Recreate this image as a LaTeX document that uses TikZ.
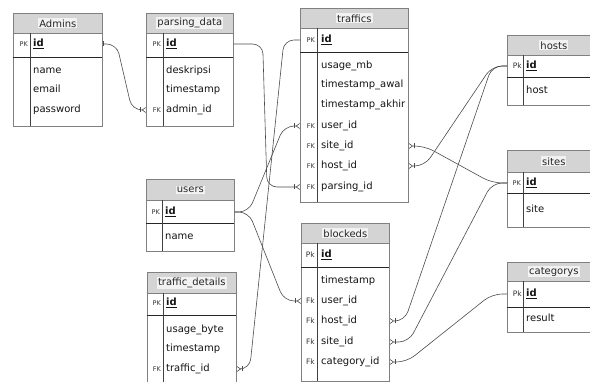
\documentclass[tikz,border=0pt]{standalone}
\usepackage{fontspec}
\setmainfont{DejaVu Sans}
\usetikzlibrary{arrows.meta, positioning}

\tikzset{
  tbl/.style={draw=black!50, line width=0.7pt, anchor=north west, inner sep=0pt},
  tblhead/.style={draw=black!50, fill=black!17, line width=0.7pt, anchor=north west, inner sep=0pt},
  ttl/.style={fill=black!5, inner sep=1pt, text=black!85, font=\fontsize{10}{12}\selectfont},
  fld/.style={anchor=west, inner sep=0pt, text height=7.5pt, text depth=2pt, text=black!92, font=\fontsize{10}{12}\selectfont},
  key/.style={anchor=east, inner sep=0pt, text height=5pt, text depth=0pt, text=black!80, font=\fontsize{6.5}{8}\selectfont},
  keyk/.style={key, text height=5.5pt, font=\fontsize{7.5}{9}\selectfont},
  pksep/.style={draw=black!85, line width=0.9pt},
  coldiv/.style={draw=black!75, line width=0.7pt},
  rel/.style={draw=black!70, line width=0.6pt, rounded corners=10pt},
  many/.style={-{Bar[width=5pt,sep=1pt]Straight Barb[reversed,length=3.5pt,width=5pt]}},
}
\newcommand{\pkid}{\underline{\textbf{id}}}

\begin{document}
\begin{tikzpicture}[x=1pt, y=-1pt]
  \useasboundingbox (0,0) rectangle (590,382);
  \fill[white] (0,0) rectangle (590,382);
  \clip (0,0) rectangle (590,382);

  % Admins
  \node[tbl, minimum width=89, minimum height=113] (admins) at (13,13) {};
  \node[tblhead, minimum width=89, minimum height=20] (admins-head) at (13,13) {};
  \node[ttl] at (admins-head.center) {Admins};
  \draw[pksep] (13,57) -- (102,57);
  \draw[coldiv] (30,33) -- (30,126);
  \node[key] at (28,44) {PK};
  \node[fld] (admins-id) at (33,44) {\pkid};
  \node[fld] (admins-name) at (33,71) {name};
  \node[fld] (admins-email) at (33,90) {email};
  \node[fld] (admins-pass) at (33,110) {password};

  % parsing_data
  \node[tbl, minimum width=87, minimum height=113] (parsing) at (146,13) {};
  \node[tblhead, minimum width=87, minimum height=20] (parsing-head) at (146,13) {};
  \node[ttl] at (parsing-head.center) {parsing\_data};
  \draw[pksep] (146,57) -- (233,57);
  \draw[coldiv] (163,33) -- (163,126);
  \node[key] at (161,44) {PK};
  \node[fld] (parsing-id) at (166,44) {\pkid};
  \node[fld] (parsing-desk) at (166,71) {deskripsi};
  \node[fld] (parsing-time) at (166,90) {timestamp};
  \node[key] at (161,110) {FK};
  \node[fld] (parsing-admin) at (166,110) {admin\_id};

  % traffics
  \node[tbl, minimum width=108, minimum height=194] (traffics) at (300,8) {};
  \node[tblhead, minimum width=108, minimum height=20] (traffics-head) at (300,8) {};
  \node[ttl] at (traffics-head.center) {traffics};
  \draw[pksep] (300,52) -- (408,52);
  \draw[coldiv] (317,28) -- (317,202);
  \node[key] at (315,40) {PK};
  \node[fld] (traffics-id) at (321,40) {\pkid};
  \node[fld] (traffics-usage) at (321,66) {usage\_mb};
  \node[fld] (traffics-awal) at (321,85) {timestamp\_awal};
  \node[fld] (traffics-akhir) at (321,105) {timestamp\_akhir};
  \node[key] at (315,126) {FK};
  \node[fld] (traffics-user) at (321,126) {user\_id};
  \node[key] at (315,146) {FK};
  \node[fld] (traffics-site) at (321,146) {site\_id};
  \node[key] at (315,166) {FK};
  \node[fld] (traffics-host) at (321,166) {host\_id};
  \node[key] at (315,187) {FK};
  \node[fld] (traffics-parsing) at (321,187) {parsing\_id};

  % hosts
  \node[tbl, minimum width=93, minimum height=70] (hosts) at (507,35) {};
  \node[tblhead, minimum width=93, minimum height=20] (hosts-head) at (507,35) {};
  \node[ttl] at (hosts-head.center) {hosts};
  \draw[pksep] (507,77) -- (600,77);
  \draw[coldiv] (523,55) -- (523,105);
  \node[keyk] at (522,66) {Pk};
  \node[fld] (hosts-id) at (526,66) {\pkid};
  \node[fld] (hosts-host) at (526,91) {host};

  % sites
  \node[tbl, minimum width=93, minimum height=77] (sites) at (507,150) {};
  \node[tblhead, minimum width=93, minimum height=22] (sites-head) at (507,150) {};
  \node[ttl] at (sites-head.center) {sites};
  \draw[pksep] (507,193) -- (600,193);
  \draw[coldiv] (523,172) -- (523,227);
  \node[key] at (521,183) {PK};
  \node[fld] (sites-id) at (526,183) {\pkid};
  \node[fld] (sites-site) at (526,210) {site};

  % users
  \node[tbl, minimum width=88, minimum height=72] (users) at (146,179) {};
  \node[tblhead, minimum width=88, minimum height=21] (users-head) at (146,179) {};
  \node[ttl] at (users-head.center) {users};
  \draw[pksep] (146,223) -- (234,223);
  \draw[coldiv] (162,200) -- (162,251);
  \node[key] at (160,212) {PK};
  \node[fld] (users-id) at (165,212) {\pkid};
  \node[fld] (users-name) at (165,237) {name};

  % traffic_details
  \node[tbl, minimum width=89, minimum height=120] (details) at (147,272) {};
  \node[tblhead, minimum width=89, minimum height=21] (details-head) at (147,272) {};
  \node[ttl] at (details-head.center) {traffic\_details};
  \draw[pksep] (147,315) -- (236,315);
  \draw[coldiv] (163,293) -- (163,392);
  \node[key] at (161,303) {PK};
  \node[fld] (details-id) at (166,303) {\pkid};
  \node[fld] (details-usage) at (166,330) {usage\_byte};
  \node[fld] (details-time) at (166,349) {timestamp};
  \node[key] at (161,369) {FK};
  \node[fld] (details-traffic) at (166,369) {traffic\_id};

  % blockeds
  \node[tbl, minimum width=88, minimum height=158] (blockeds) at (301,223) {};
  \node[tblhead, minimum width=88, minimum height=20] (blockeds-head) at (301,223) {};
  \node[ttl] at (blockeds-head.center) {blockeds};
  \draw[pksep] (301,267) -- (389,267);
  \draw[coldiv] (317,243) -- (317,381);
  \node[keyk] at (315,255) {Pk};
  \node[fld] (blockeds-id) at (321,255) {\pkid};
  \node[fld] (blockeds-time) at (321,281) {timestamp};
  \node[keyk] at (315,301) {Fk};
  \node[fld] (blockeds-user) at (321,301) {user\_id};
  \node[keyk] at (315,321) {Fk};
  \node[fld] (blockeds-host) at (321,321) {host\_id};
  \node[keyk] at (315,342) {Fk};
  \node[fld] (blockeds-site) at (321,342) {site\_id};
  \node[keyk] at (315,362) {Fk};
  \node[fld] (blockeds-cat) at (321,362) {category\_id};

  % categorys
  \node[tbl, minimum width=93, minimum height=70] (categorys) at (507,262) {};
  \node[tblhead, minimum width=93, minimum height=19] (categorys-head) at (507,262) {};
  \node[ttl] at (categorys-head.center) {categorys};
  \draw[pksep] (507,307) -- (600,307);
  \draw[coldiv] (523,281) -- (523,332);
  \node[keyk] at (522,294) {Pk};
  \node[fld] (categorys-id) at (526,294) {\pkid};
  \node[fld] (categorys-result) at (526,319) {result};

  % relations
  \draw[rel, arrows={{Bar[width=5pt]}-{Bar[width=5pt,sep=1pt]Straight Barb[reversed,length=3.5pt,width=5pt]}}]
    (admins.east |- admins-id) -- ++(14,0) -- ([xshift=-14pt]parsing.west |- parsing-admin) -- (parsing.west |- parsing-admin);
  \draw[rel, many] (parsing.east |- parsing-id) -- ++(29,0) -- ([xshift=-33pt]traffics.west |- traffics-parsing) -- (traffics.west |- traffics-parsing);
  \draw[rel, many] (traffics.west |- traffics-id) -- ++(-16,0) -- ([xshift=13pt]details.east |- details-traffic) -- (details.east |- details-traffic);
  \draw[rel, many] (users.east |- users-id) -- ++(14,0) -- ([xshift=-16pt]traffics.west |- traffics-user) -- (traffics.west |- traffics-user);
  \draw[rel, many] (users.east |- users-id) -- ++(14,0) -- ([xshift=-17pt]blockeds.west |- blockeds-user) -- (blockeds.west |- blockeds-user);
  \draw[rel, many] (hosts.west |- hosts-id) -- ++(-15,0) -- ([xshift=16pt]traffics.east |- traffics-host) -- (traffics.east |- traffics-host);
  \draw[rel, many] (hosts.west |- hosts-id) -- ++(-15,0) -- ([xshift=15pt]blockeds.east |- blockeds-host) -- (blockeds.east |- blockeds-host);
  \draw[rel, many] (sites.west |- sites-id) -- ++(-15,0) -- ([xshift=16pt]traffics.east |- traffics-site) -- (traffics.east |- traffics-site);
  \draw[rel, many] (sites.west |- sites-id) -- ++(-15,0) -- ([xshift=19pt]blockeds.east |- blockeds-site) -- (blockeds.east |- blockeds-site);
  \draw[rel, many] (categorys.west |- categorys-id) -- ++(-15,0) -- ([xshift=17pt]blockeds.east |- blockeds-cat) -- (blockeds.east |- blockeds-cat);
\end{tikzpicture}
\end{document}
